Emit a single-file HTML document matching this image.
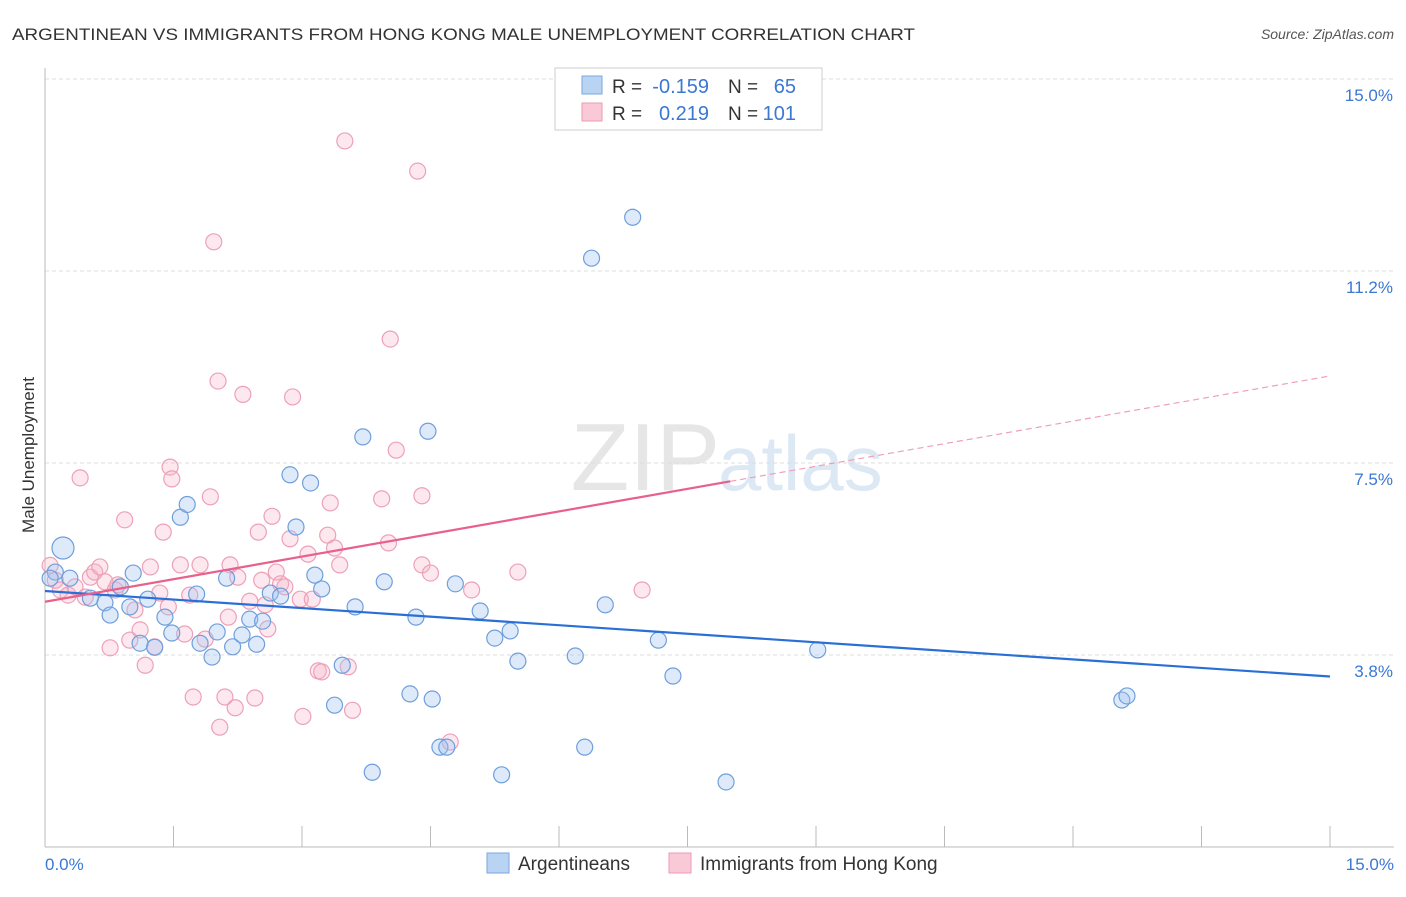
<!DOCTYPE html>
<html><head><meta charset="utf-8"><style>
body{margin:0;background:#fff;font-family:"Liberation Sans",sans-serif;}
svg text{font-family:"Liberation Sans",sans-serif;}
</style></head><body>
<svg id="chart" width="1406" height="892">
<text x="12" y="40" font-size="17" fill="#333" textLength="903" lengthAdjust="spacingAndGlyphs">ARGENTINEAN VS IMMIGRANTS FROM HONG KONG MALE UNEMPLOYMENT CORRELATION CHART</text>
<text x="1394" y="39" font-size="14" fill="#555" font-style="italic" text-anchor="end">Source: ZipAtlas.com</text>
<text x="720" y="490" font-size="96" fill="#e6e6e6" text-anchor="end" font-family="Liberation Serif">ZIP</text>
<text x="718" y="490" font-size="78" fill="#dde8f5">atlas</text>
<g id="grid"></g><g id="axes"></g><g id="pts"></g><g id="lines"></g>
<text x="34" y="455" font-size="17" fill="#333" transform="rotate(-90 34 455)" text-anchor="middle">Male Unemployment</text>
<text x="45" y="870" font-size="17" fill="#3a78d4">0.0%</text>
<text x="1394" y="870" font-size="17" fill="#3a78d4" text-anchor="end">15.0%</text>
<g>
<rect x="555" y="68" width="267" height="62" fill="#fff" stroke="#ccc"/>
<rect x="582" y="76" width="20" height="18" fill="#b9d3f3" stroke="#7aa7e0"/>
<rect x="582" y="103" width="20" height="18" fill="#f9c9d8" stroke="#ee9ab4"/>
<text x="612" y="93" font-size="19" fill="#333">R =</text>
<text x="709" y="93" font-size="20" fill="#3a78d4" text-anchor="end">-0.159</text>
<text x="728" y="93" font-size="19" fill="#333">N =</text>
<text x="796" y="93" font-size="20" fill="#3a78d4" text-anchor="end">65</text>
<text x="612" y="120" font-size="19" fill="#333">R =</text>
<text x="709" y="120" font-size="20" fill="#3a78d4" text-anchor="end">0.219</text>
<text x="728" y="120" font-size="19" fill="#333">N =</text>
<text x="796" y="120" font-size="20" fill="#3a78d4" text-anchor="end">101</text>
</g>
<g>
<rect x="487" y="853" width="22" height="20" fill="#b9d3f3" stroke="#7aa7e0"/>
<text x="518" y="870" font-size="19" fill="#333">Argentineans</text>
<rect x="669" y="853" width="22" height="20" fill="#f9c9d8" stroke="#ee9ab4"/>
<text x="700" y="870" font-size="19" fill="#333">Immigrants from Hong Kong</text>
</g>
</svg>
<script>
const yTicks=[3.75,7.5,11.25,15];
const yTickLabels=["3.8%","7.5%","11.2%","15.0%"];
const blueX=[0.21,0.12,0.29,0.06,0.53,0.70,0.76,0.88,1.03,1.11,1.20,1.28,1.40,1.48,1.58,1.66,1.77,1.81,1.95,2.01,2.12,2.19,2.30,2.39,2.47,2.54,2.63,2.75,2.86,2.93,3.10,3.15,3.23,3.38,3.47,3.62,3.71,3.82,3.96,4.26,4.33,4.47,4.52,4.61,4.69,4.79,5.08,5.25,5.33,5.43,5.52,6.19,6.30,6.38,6.54,6.86,7.16,7.33,7.95,9.02,12.57,12.63,0.99];
const blueY=[5.84,5.37,5.25,5.25,4.86,4.77,4.53,5.08,5.35,3.98,4.84,3.90,4.49,4.18,6.44,6.69,4.94,3.98,3.71,4.20,5.25,3.91,4.14,4.45,3.96,4.41,4.96,4.90,7.27,6.25,7.11,5.31,5.04,2.77,3.55,4.69,8.01,1.46,5.18,2.99,4.49,8.12,2.89,1.95,1.95,5.14,4.61,4.08,1.41,4.22,3.63,3.73,1.95,11.50,4.73,12.3,4.04,3.34,1.27,3.85,2.87,2.95,4.69];
const pinkX=[0.06,0.12,0.18,0.27,0.35,0.41,0.47,0.53,0.58,0.64,0.70,0.76,0.82,0.85,0.93,0.99,1.05,1.11,1.17,1.23,1.28,1.34,1.38,1.44,1.46,1.48,1.58,1.63,1.69,1.73,1.81,1.87,1.93,1.97,2.02,2.04,2.10,2.14,2.16,2.22,2.25,2.31,2.39,2.45,2.49,2.53,2.57,2.60,2.65,2.70,2.75,2.80,2.86,2.89,2.98,3.01,3.07,3.12,3.19,3.23,3.30,3.33,3.38,3.44,3.50,3.54,3.59,3.93,4.01,4.03,4.10,4.35,4.40,4.40,4.50,4.73,4.98,5.52,6.97];
const pinkY=[5.50,5.21,5.02,4.92,5.08,7.21,4.88,5.27,5.37,5.47,5.18,3.89,5.02,5.12,6.39,4.04,4.63,4.24,3.55,5.47,3.91,4.96,6.15,4.69,7.42,7.19,5.51,4.16,4.92,2.93,5.51,4.06,6.84,11.82,9.10,2.34,2.93,4.49,5.51,2.72,5.27,8.84,4.80,2.91,6.15,5.21,4.73,4.26,6.46,5.37,5.14,5.08,6.02,8.79,4.84,2.55,5.72,4.84,3.44,3.42,6.09,6.72,5.84,5.51,13.79,3.52,2.67,6.80,5.94,9.92,7.75,13.2,6.86,5.51,5.35,2.05,5.02,5.37,5.02];
const blueTrend=[5.0,3.33];
const pinkTrend=[4.79,9.2];
const NS="http://www.w3.org/2000/svg";
const X0=45,X1=1330,Y0=847,PY=51.2;
const sx=v=>X0+v*(X1-X0)/15, sy=v=>Y0-v*PY;
function mk(tag,attrs,parent){const e=document.createElementNS(NS,tag);for(const k in attrs)e.setAttribute(k,attrs[k]);parent.appendChild(e);return e;}
const grid=document.getElementById('grid'),axes=document.getElementById('axes');
yTicks.forEach((t,i)=>{
 const g=mk('line',{x1:X0,x2:1394,y1:sy(t),y2:sy(t),stroke:'#ddd','stroke-dasharray':'4,3'},grid);
 
 
 const l=mk('text',{x:1393,y:sy(t)+22,'font-size':17,fill:'#3a78d4','text-anchor':'end'},grid);
 l.textContent=yTickLabels[i];
 
 
});
const ax=mk('line',{x1:X0,x2:X0,y1:68,y2:Y0,stroke:'#bbb'},axes);


const bx=mk('line',{x1:X0,x2:1394,y1:Y0,y2:Y0,stroke:'#bbb'},axes);


for(let i=0;i<=10;i++){const v=i*1.5;
 const t=mk('line',{x1:sx(v),x2:sx(v),y1:826,y2:Y0,stroke:'#bbb'},axes);
 
 }
const pts=document.getElementById('pts');
pinkX.forEach((x,i)=>{
 const c=mk('circle',{cx:sx(x),cy:sy(pinkY[i]),r:8,fill:'rgba(246,180,200,0.3)',stroke:'#eea0b8','stroke-width':1.2},pts);
 
 
});
blueX.forEach((x,i)=>{
 const c=mk('circle',{cx:sx(x),cy:sy(blueY[i]),r:i==0?11:8,fill:'rgba(160,196,240,0.35)',stroke:'#6e9fdc','stroke-width':1.2},pts);
 
 
});
const lines=document.getElementById('lines');
const bl=mk('line',{x1:sx(0),y1:sy(blueTrend[0]),x2:sx(15),y2:sy(blueTrend[1]),stroke:'#2a6fd6','stroke-width':2.2},lines);


const pm=v=>pinkTrend[0]+(pinkTrend[1]-pinkTrend[0])*v/15;
const pl=mk('line',{x1:sx(0),y1:sy(pm(0)),x2:sx(8),y2:sy(pm(8)),stroke:'#e8608c','stroke-width':2.2},lines);


const pd=mk('line',{x1:sx(8),y1:sy(pm(8)),x2:sx(15),y2:sy(pm(15)),stroke:'#eea0b8','stroke-width':1.2,'stroke-dasharray':'6,4'},lines);


</script>
</body></html>
